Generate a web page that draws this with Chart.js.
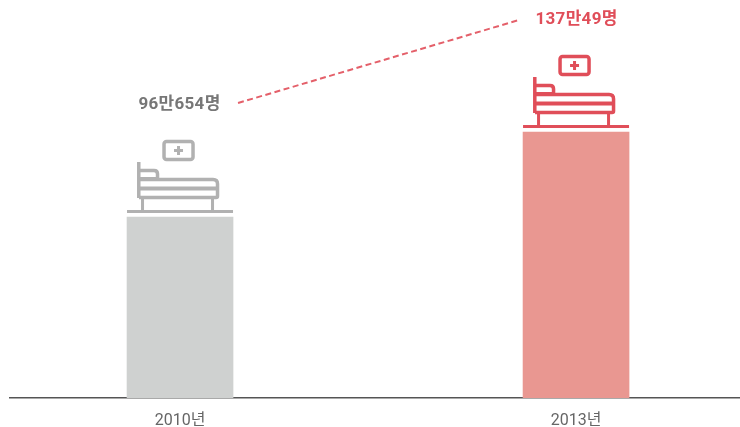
<!DOCTYPE html>
<html>
<head>
<meta charset="utf-8">
<style>
  html, body { margin: 0; background: #fff; }
  canvas { display: block; }
</style>
<script src="https://cdn.jsdelivr.net/npm/chart.js@4"></script>
</head>
<body>
<canvas id="bedChart" width="740" height="427"></canvas>
<script>
const years = [2010, 2013];
const patients = [960654, 1370049];
const valueLabels = ['96만654명', '137만49명'];
const barColors = ['#cfd1d0', '#e99791'];
const iconColors = ['#b1b1b1', '#e04e59'];
const textColors = ['#777777', '#e04e59'];

const FONT = 'Roboto, "Noto Sans CJK KR", sans-serif';

function drawBed(ctx, c, t, color) {
  ctx.save();
  ctx.strokeStyle = color;
  ctx.fillStyle = color;
  ctx.lineWidth = 3.5;

  // floor line, same width as the bar
  ctx.fillRect(c - 53, t - 7, 106, 3);
  // legs
  ctx.fillRect(c - 39, t - 19, 3, 13);
  ctx.fillRect(c + 31, t - 19, 3, 13);
  // headboard
  ctx.fillRect(c - 43, t - 55, 3.5, 36);
  // mattress
  ctx.beginPath();
  ctx.moveTo(c - 41, t - 37.5);
  ctx.lineTo(c + 33, t - 37.5);
  ctx.quadraticCurveTo(c + 37.5, t - 37.5, c + 37.5, t - 33);
  ctx.lineTo(c + 37.5, t - 21);
  ctx.quadraticCurveTo(c + 37.5, t - 19.5, c + 36, t - 19.5);
  ctx.lineTo(c - 41, t - 19.5);
  ctx.stroke();
  ctx.fillRect(c - 41, t - 30.5, 78, 4);
  // pillow
  ctx.beginPath();
  ctx.moveTo(c - 41, t - 46.5);
  ctx.lineTo(c - 26, t - 46.5);
  ctx.quadraticCurveTo(c - 22.5, t - 46.5, c - 22.5, t - 43);
  ctx.lineTo(c - 22.5, t - 38);
  ctx.stroke();
  ctx.fillRect(c - 41, t - 40, 18, 2);
  // sign with the cross
  ctx.beginPath();
  ctx.roundRect(c - 16, t - 75.5, 29, 18, 2.5);
  ctx.stroke();
  ctx.fillRect(c - 6, t - 68, 9, 3);
  ctx.fillRect(c - 3, t - 71, 3, 9);
  ctx.restore();
}

const bedPlugin = {
  id: 'bedPlugin',
  afterDatasetsDraw(chart) {
    const ctx = chart.ctx;
    const x = chart.scales.x;
    const y = chart.scales.y;
    const centers = years.map(v => x.getPixelForValue(v));
    const tops = patients.map(v => y.getPixelForValue(v));

    years.forEach((yr, i) => drawBed(ctx, centers[i], tops[i], iconColors[i]));

    ctx.save();
    ctx.font = 'bold 17px ' + FONT;
    ctx.letterSpacing = '0.3px';
    ctx.textAlign = 'center';
    ctx.textBaseline = 'middle';
    ctx.fillStyle = textColors[0];
    ctx.fillText(valueLabels[0], centers[0] - 0.5, tops[0] - 112);
    ctx.fillStyle = textColors[1];
    ctx.fillText(valueLabels[1], centers[1] + 0.5, tops[1] - 112);

    // dashed connector between the two labels
    ctx.strokeStyle = '#e4606a';
    ctx.lineWidth = 2;
    ctx.setLineDash([6, 3.5]);
    ctx.beginPath();
    ctx.moveTo(centers[0] + 58, tops[0] - 114);
    ctx.lineTo(centers[1] - 57, tops[1] - 112);
    ctx.stroke();
    ctx.restore();
  }
};

new Chart(document.getElementById('bedChart'), {
  type: 'bar',
  data: {
    datasets: [{
      data: years.map((yr, i) => ({ x: yr, y: patients[i] })),
      backgroundColor: barColors,
      borderWidth: 0,
      barThickness: 106
    }]
  },
  options: {
    responsive: false,
    animation: false,
    layout: { padding: { left: 10, right: 0, top: 0, bottom: 0 } },
    plugins: {
      legend: { display: false },
      tooltip: { enabled: false }
    },
    scales: {
      x: {
        type: 'linear',
        offset: false,
        min: 2008.712,
        max: 2014.242,
        grid: { display: false, drawTicks: false },
        border: { color: '#555555', width: 1.5 },
        afterBuildTicks(scale) {
          scale.ticks = years.map(v => ({ value: v }));
        },
        afterFit(scale) { scale.height = 29; },
        ticks: {
          autoSkip: false,
          maxRotation: 0,
          padding: 13,
          color: '#666666',
          font: { family: FONT, size: 16 },
          callback: v => v + '년'
        }
      },
      y: {
        display: false,
        min: 88690,
        max: 2006000
      }
    }
  },
  plugins: [bedPlugin]
});
</script>
</body>
</html>
